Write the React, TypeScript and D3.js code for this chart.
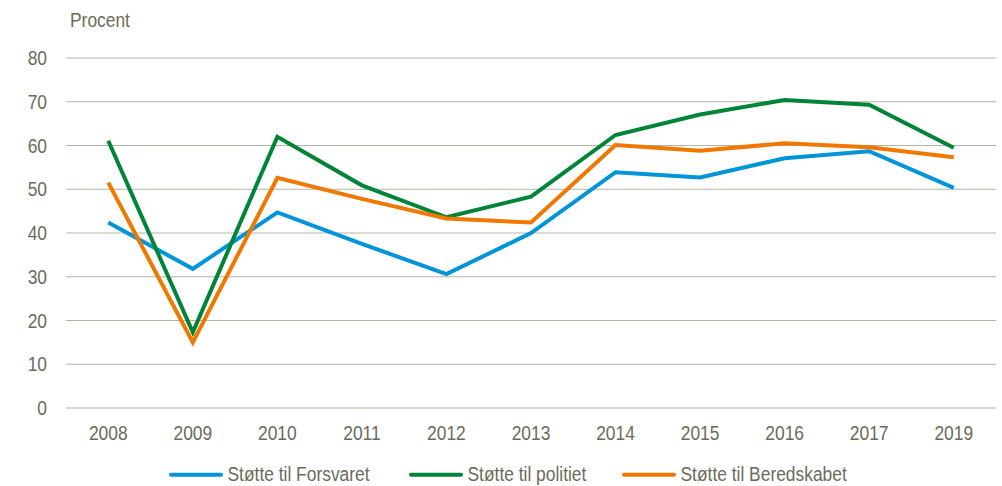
import React from "react";
import * as d3 from "d3";

const years = ["2008", "2009", "2010", "2011", "2012", "2013", "2014", "2015", "2016", "2017", "2019"];
const forsvaret = [42.4, 31.8, 44.7, 37.5, 30.6, 40.0, 53.9, 52.7, 57.1, 58.7, 50.3];
const politiet = [61.1, 17.3, 62.0, 50.9, 43.6, 48.3, 62.4, 67.1, 70.4, 69.3, 59.5];
const beredskabet = [51.5, 15.0, 52.6, 47.8, 43.3, 42.4, 60.1, 58.8, 60.5, 59.6, 57.3];
const yTicks = [0, 10, 20, 30, 40, 50, 60, 70, 80];

const seriesNames = ["Støtte til Forsvaret", "Støtte til politiet", "Støtte til Beredskabet"];
const seriesColors = ["#0094d8", "#008538", "#f07800"];
const seriesValues = [forsvaret, politiet, beredskabet];

const W = 1002;
const H = 486;
const left = 66;
const right = 996;
const top = 58;
const bottom = 408;
const textColor = "#6b6b5c";
const font = "'Liberation Sans', Arial, sans-serif";
const FS = 20;
const SX = 0.87;

function T({ x, y, anchor, children }: { x: number; y: number; anchor?: string; children: React.ReactNode }) {
  return (
    <text
      transform={`translate(${x},${y}) scale(${SX},1)`}
      fontSize={FS}
      fill={textColor}
      textAnchor={anchor || "start"}
    >
      {children}
    </text>
  );
}

export default function App() {
  const x = d3.scaleBand<string>().domain(years).range([left, right]);
  const y = d3.scaleLinear().domain([0, 80]).range([bottom, top]);
  const cx = (yr: string) => (x(yr) as number) + x.bandwidth() / 2;
  const line = d3
    .line<number>()
    .x((_, i) => cx(years[i]))
    .y((d) => y(d));

  const legendX = [169, 409, 622];

  return (
    <svg width={W} height={H} style={{ position: "absolute", left: 0, top: 0 }} fontFamily={font}>
      <rect width={W} height={H} fill="#ffffff" />
      <T x={70} y={26.5}>Procent</T>
      {yTicks.map((t) => (
        <g key={t}>
          <line x1={left} x2={right} y1={y(t)} y2={y(t)} stroke="#b5b3a6" strokeWidth={1.2} />
          <T x={47} y={y(t) + 7} anchor="end">{t}</T>
        </g>
      ))}
      {years.map((yr) => (
        <T key={yr} x={cx(yr)} y={440} anchor="middle">{yr}</T>
      ))}
      {seriesValues.map((vals, i) => (
        <path key={i} d={line(vals) || ""} fill="none" stroke={seriesColors[i]} strokeWidth={4} strokeLinejoin="miter" />
      ))}
      {seriesNames.map((n, i) => (
        <g key={n}>
          <line x1={legendX[i] + 2} x2={legendX[i] + 52} y1={474.7} y2={474.7} stroke={seriesColors[i]} strokeWidth={4} strokeLinecap="round" />
          <T x={legendX[i] + 58.5} y={481}>{n}</T>
        </g>
      ))}
    </svg>
  );
}
